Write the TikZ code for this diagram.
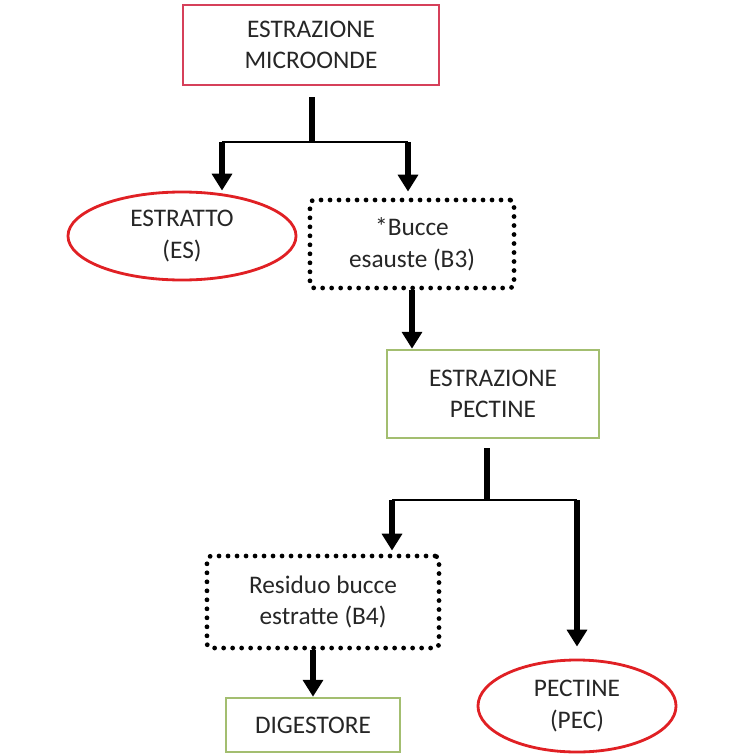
\documentclass[tikz,border=0pt]{standalone}
\usepackage{fontspec}
\setmainfont{Carlito}
\usetikzlibrary{shapes.geometric, arrows.meta, positioning}
\usepackage{xcolor}
\definecolor{boxred}{RGB}{214, 64, 90}
\definecolor{ovalred}{RGB}{224, 32, 36}
\definecolor{boxgreen}{RGB}{163, 190, 112}
\definecolor{textgray}{RGB}{38, 38, 38}
\tikzset{
    base node/.style={
        align=center,
        inner sep=0pt,
        text=textgray,
        font=\fontsize{18}{22.5}\selectfont
    },
    process red/.style={
        base node,
        rectangle,
        draw=boxred,
        line width=2pt
    },
    process green/.style={
        base node,
        rectangle,
        draw=boxgreen,
        line width=1.8pt
    },
    product/.style={
        base node,
        ellipse,
        draw=ovalred,
        line width=2pt
    },
    residue/.style={
        base node,
        rectangle,
        rounded corners=1mm,
        draw=black,
        line width=3.4pt,
        line cap=round,
        dash pattern=on 0pt off 6.4pt
    },
    stem/.style={
        line width=3.8pt,
        draw=black
    },
    bar/.style={
        line width=2pt,
        draw=black
    },
    arrow/.style={
        -{Triangle[width=14pt, length=12pt]},
        line width=4pt,
        draw=black
    }
}

\begin{document}
\begin{tikzpicture}[x=0.025cm, y=-0.025cm]

\useasboundingbox (0, 0) rectangle (741, 754);

% Microwave extraction
\node[process red, minimum width=6.4cm, minimum height=2.0cm]
     (micro) at (311, 45) {ESTRAZIONE\\MICROONDE};

% Products of the first step
\node[product, minimum width=5.7cm, minimum height=2.2cm]
     (estratto) at (182, 236) {ESTRATTO\\(ES)};
\node[residue, minimum width=5.1cm, minimum height=2.2cm]
     (bucce) at (412, 244) {*Bucce\\esauste (B3)};

% Pectin extraction
\node[process green, minimum width=5.3cm, minimum height=2.2cm]
     (pectext) at (493, 394) {ESTRAZIONE\\PECTINE};

% Products of the second step
\node[residue, minimum width=5.8cm, minimum height=2.3cm]
     (residuo) at (323, 602) {Residuo bucce\\estratte (B4)};
\node[product, minimum width=4.95cm, minimum height=2.3cm]
     (pectine) at (577, 706) {PECTINE\\(PEC)};
\node[process green, minimum width=4.35cm, minimum height=1.35cm]
     (digest) at (313, 725) {DIGESTORE};

% Junctions
\coordinate (split1) at (312, 142);
\coordinate (left1) at (222, 142);
\coordinate (right1) at (408, 142);
\coordinate (split2) at (487, 500);
\coordinate (left2) at (392, 500);
\coordinate (right2) at (577, 500);

% First split
\draw[stem, shorten <=0.275cm] (micro.south -| split1) -- (split1);
\draw[bar] (left1) -- (right1);
\draw[arrow] (left1) -- (left1 |- estratto.north);
\draw[arrow, shorten >=0.15cm] (right1) -- (right1 |- bucce.north);

% Exhausted peels to pectin extraction
\draw[arrow] (bucce.south) -- (bucce.south |- pectext.north);

% Second split
\draw[stem, shorten <=0.225cm] (pectext.south -| split2) -- (split2);
\draw[bar] (left2) -- (right2);
\draw[arrow, shorten >=0.075cm] (left2) -- (left2 |- residuo.north);
\draw[arrow, shorten >=0.3cm] (right2) -- (right2 |- pectine.north);

% Residue to digester
\draw[arrow] (residuo.south -| digest.north) -- (digest.north);

\end{tikzpicture}
\end{document}
